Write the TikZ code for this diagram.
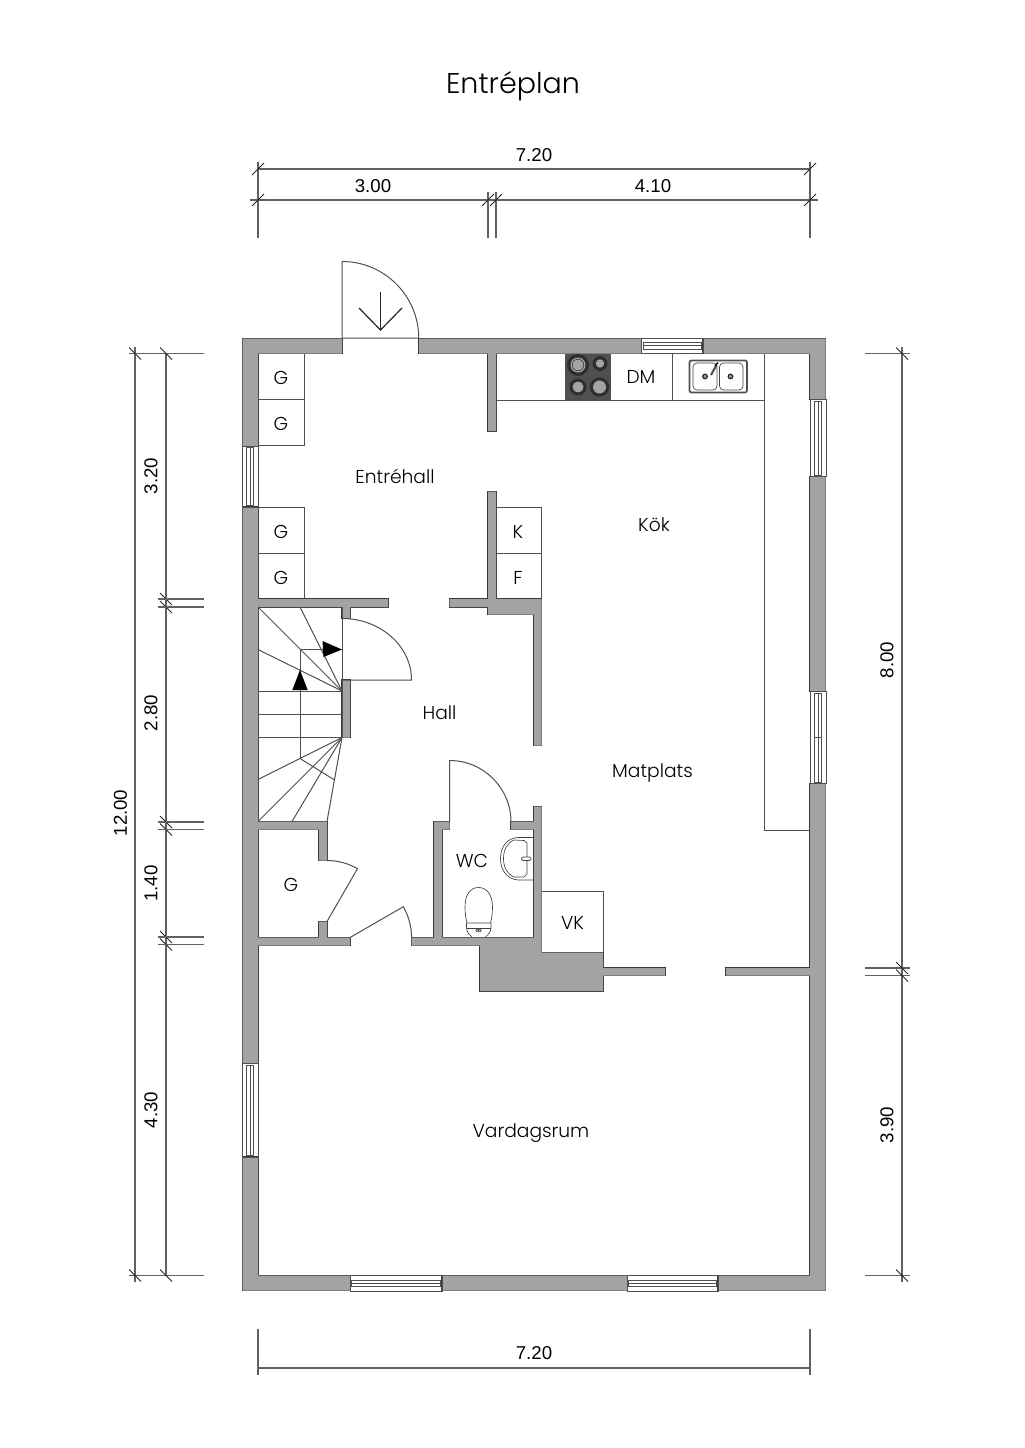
\documentclass[tikz,border=0pt]{standalone}
\usepackage{fontspec}
\setmainfont{Poppins Light}
\newfontfamily\dimfont{Liberation Sans}
\usetikzlibrary{calc}

\definecolor{wallgray}{HTML}{A3A3A3}
\definecolor{wallline}{HTML}{3A3A3A}
\definecolor{hobgray}{HTML}{505050}
\definecolor{thingray}{HTML}{505050}

\tikzset{
  roomlabel/.style={font=\fontsize{14}{16}\selectfont,inner sep=0pt,text height=10pt,text depth=0pt,text=black},
  dimlabel/.style={font=\dimfont\fontsize{14}{16}\selectfont,inner sep=0pt,text=black},
  thinline/.style={draw=thingray,line width=0.75pt},
  dimline/.style={draw=black!62,line width=0.9pt},
  tickline/.style={draw=black!85,line width=0.6pt},
  sanitary/.style={draw=black!75,line width=0.5pt},
}

% all the wall pieces, as rectangles, so they can be outlined and then filled
\newcommand{\wallrects}{
  % outer walls
  (242.5,338.5) rectangle (342,353.5) (419,338.5) rectangle (641.5,353.5) (703,338.5) rectangle (825.5,353.5)
  (810,338.5) rectangle (825.5,399.5) (810,476.5) rectangle (825.5,691.5) (810,783.5) rectangle (825.5,1290.5)
  (242.5,338.5) rectangle (258,446) (242.5,507) rectangle (258,1063.5) (242.5,1157) rectangle (258,1290.5)
  (242.5,1275.5) rectangle (350,1290.5) (442,1275.5) rectangle (627,1290.5) (718,1275.5) rectangle (825.5,1290.5)
  % entrance hall and kitchen partition
  (488,353.5) rectangle (496,431) (488,491.5) rectangle (496,607)
  (258,599) rectangle (388,607) (449.5,599) rectangle (496,607)
  (488,599) rectangle (541.5,614.5) (534,599) rectangle (541.5,745.5)
  % stair walls
  (342,599) rectangle (350,618.5) (342,680) rectangle (350,737.5)
  % storage
  (258,821.5) rectangle (327,829.5) (319,821.5) rectangle (327,860.5)
  (319,921.5) rectangle (327,945.5) (258,937.5) rectangle (350,945.5)
  % wc
  (411.5,937.5) rectangle (480,945.5) (434,821.5) rectangle (442,945.5)
  (434,821.5) rectangle (449.5,829.5) (511,821.5) rectangle (541.5,829.5)
  (534,806.5) rectangle (541.5,960)
  % chimney block and living room partition
  (480,937.5) rectangle (541.5,991) (541.5,952.5) rectangle (603,991)
  (603,968) rectangle (665,975.5) (726,968) rectangle (810,975.5)
}

\begin{document}
\begin{tikzpicture}[x=0.75pt,y=-0.75pt]
\useasboundingbox (0,0) rectangle (1024,1448);

% the title
\node[font=\fontsize{21.4}{24}\selectfont,inner sep=0pt,text height=15pt,text depth=0pt] (title) at (513,84) {Entréplan};

% cupboards and counter
\foreach \xa/\ya/\xb/\yb in {258/353.5/304/399.5, 258/399.5/304/445.5, 258/507/304/553, 258/553/304/599,
    496/507/541.5/553, 496/553/541.5/599, 541.5/891/603/952.5}
  \draw[thinline] (\xa,\ya) rectangle (\xb,\yb);
\draw[thinline] (496,400) -- (764.5,400);
\draw[thinline] (764.5,353.5) -- (764.5,830) -- (810,830);
\draw[thinline] (672.5,353.5) -- (672.5,400);

% the hob
\fill[hobgray] (564.5,353.5) rectangle (611,400);
\foreach \cx/\cy/\rad/\inrad in {578/365/11/7.5, 600/363.5/7.5/4.2, 578/387/8.5/5.5, 599.5/387/9.7/6.5} {
  \fill[black!82] (\cx,\cy) circle [radius=\rad];
  \fill[wallgray] (\cx,\cy) circle [radius=\inrad];
}
\draw[draw=black!82,line width=0.4pt] (578,365) circle [radius=5.8];

% the kitchen sink
\draw[draw=thingray,line width=1.3pt,rounded corners=1.5pt] (689.5,360.5) rectangle (747,392.5);
\draw[sanitary,rounded corners=3pt] (693,363) rectangle (717,390);
\draw[sanitary,rounded corners=3pt] (719.5,363) rectangle (743,390);
\foreach \cx in {705,730.5}
  \draw[draw=black!85,line width=0.9pt,fill=wallgray] (\cx,376.5) circle [radius=2.3];
\draw[draw=thingray,line width=1.6pt] (711,375) -- (716.5,365);
\draw[draw=black,line width=1pt] (715,366) -- (718,362.5);

% the walls
\draw[draw=wallline,line width=0.8pt] \wallrects;
\fill[wallgray] \wallrects;

% the windows, horizontal and vertical
\foreach \xa/\xb/\ya/\yb in {641.5/703/338/353.5, 350/442/1275.5/1291, 627/718/1275.5/1291} {
  \draw[thinline] (\xa,\ya) rectangle (\xb,\yb);
  \draw[thinline] (\xa+1.5,\ya+4.5) rectangle (\xb-1.5,\yb-4.5);
  \draw[thinline] (\xa+1.5,\ya+7.75) -- (\xb-1.5,\ya+7.75);
}
\foreach \xa/\xb/\ya/\yb in {242/258/446/507, 810/826/399.5/476.5, 810/826/691.5/783.5, 242/258/1063.5/1157} {
  \draw[thinline] (\xa,\ya) rectangle (\xb,\yb);
  \draw[thinline] (\xa+4.5,\ya+1.5) rectangle (\xb-4.5,\yb-1.5);
  \draw[thinline] (\xa+8,\ya+1.5) -- (\xa+8,\yb-1.5);
}
\draw[thinline] (814.5,737.5) -- (821.5,737.5);

% the entrance door and its arrow
\draw[thinline] (419,338) -- (342,338) -- (342,261.5) arc [start angle=-90,end angle=0,radius=76.75];
\draw[draw=black!85,line width=0.9pt] (380.5,292) -- (380.5,330);
\draw[draw=black!85,line width=0.9pt] (359,308) -- (380.5,330) -- (402,308);

% the other doors
\draw[thinline] (342,618.5) arc [start angle=-90,end angle=0,x radius=69.5,y radius=61.5] -- (342,680);
\draw[thinline] (449.5,821.5) -- (449.5,760.5) arc [start angle=-90,end angle=0,radius=61.5];
\draw[thinline] (327,860.5) arc [start angle=-90,end angle=-60,radius=61] -- (327,921.5);
\draw[thinline] (350,937.5) -- (403.3,906.75) arc [start angle=-30,end angle=0,radius=61.5];

% the stairs
\draw[thinline] (342,607) -- (342,737.5);
\foreach \y in {691,714.5,737.5}
  \draw[thinline] (258,\y) -- (342,\y);
\foreach \xa/\ya in {258/607, 300/607, 258/649.5}
  \draw[thinline] (\xa,\ya) -- (342,691);
\foreach \xa in {258,292,327}
  \draw[thinline] (\xa,821.5) -- (342,737.5);
\draw[thinline] (258,779.5) -- (342,737.5);
\draw[thinline] (300,758.5) -- (334.5,780);
\draw[thinline] (300,758.5) -- (300,649.5) -- (342,649.5);
\fill[black] (300,670) -- (292.3,690) -- (307.7,690) -- cycle;
\fill[black] (342,649.5) -- (322.5,641) -- (323.5,657) -- cycle;

% the wash basin
\draw[sanitary] (534,837.5) -- (518,837.5) .. controls (506,838) and (500.5,848) .. (500.5,858.5)
  .. controls (500.5,869) and (506,879) .. (518,880) -- (534,880);
\draw[sanitary] (524,840.5) -- (514,840) .. controls (507,843) and (503.5,850) .. (503.5,858.5)
  .. controls (503.5,867) and (507,874) .. (514,877) -- (524,877) -- (527,874);
\draw[sanitary] (524,840.5) -- (527,843) -- (527,874);
\draw[sanitary,fill=white,rounded corners=1pt] (521.5,857) rectangle (531,860.5);

% the toilet
\draw[sanitary] (478.5,887.5) .. controls (470,887.5) and (465,895) .. (465,907)
  .. controls (465,914) and (466,919) .. (467,923) -- (490.5,923)
  .. controls (491.5,919) and (492.5,914) .. (492.5,907) .. controls (492.5,895) and (487,887.5) .. (478.5,887.5);
\draw[sanitary] (466.5,923) -- (466.5,928) .. controls (467,932) and (469,935) .. (472,937);
\draw[sanitary] (491,923) -- (491,928) .. controls (490.5,932) and (488.5,935) .. (485.5,937);
\draw[sanitary] (466.5,928) -- (491,928);
\draw[sanitary] (478.5,930.5) ellipse [x radius=2.8,y radius=1.4];
\fill[black!85] (478.5,930.5) circle [radius=0.9];

% the room labels
\node[roomlabel] (entrehall) at (395,477) {Entréhall};
\node[roomlabel] (kok) at (654,525) {Kök};
\node[roomlabel] (hall) at (439.5,712.5) {Hall};
\node[roomlabel] (matplats) at (652.5,771) {Matplats};
\node[roomlabel] (vardagsrum) at (531,1130.5) {Vardagsrum};
\node[roomlabel] (wc) at (472,861) {WC};
\foreach \x/\y/\name/\txt in {281/377.5/ga/G, 281/423.5/gb/G, 281/531.5/gc/G, 281/577.5/gd/G, 291/884.5/ge/G,
    518/531.5/kyl/K, 518/577.5/frys/F, 641/377/dm/DM, 572.5/922.5/vk/VK}
  \node[roomlabel] (\name) at (\x,\y) {\txt};

% dimensions above
\draw[dimline] (258,169) -- (810,169);
\draw[dimline] (250,200) -- (818,200);
\foreach \x/\ytop in {258/162, 488/192, 496/192, 810/162}
  \draw[dimline] (\x,\ytop) -- (\x,238);
\foreach \x/\y in {258/169, 810/169, 258/200, 488/200, 496/200, 810/200}
  \draw[tickline] (\x-6,\y+6) -- (\x+6,\y-6);
\node[dimlabel] (overall) at (534,155) {7.20};
\node[dimlabel] (partleft) at (373,186) {3.00};
\node[dimlabel] (partright) at (653,186) {4.10};

% dimensions below
\draw[dimline] (258,1368) -- (810,1368);
\foreach \x in {258,810}
  \draw[dimline] (\x,1329) -- (\x,1375);
\node[dimlabel] (overallb) at (534,1353) {7.20};

% dimensions on the left
\draw[dimline] (135,347) -- (135,1282);
\draw[dimline] (166,353.5) -- (166,1275.5);
\foreach \y in {353.5,1275.5} {
  \draw[dimline] (129,\y) -- (204,\y);
  \draw[tickline] (135-6,\y-6) -- (135+6,\y+6);
}
\foreach \y in {353.5,599,607,822,829.5,937,944.5,1275.5}
  \draw[tickline] (166-6,\y-6) -- (166+6,\y+6);
\foreach \y in {599,607,822,829.5,937,944.5}
  \draw[dimline] (158,\y) -- (204,\y);
\node[dimlabel,rotate=90] (dtotal) at (120.5,813) {12.00};
\node[dimlabel,rotate=90] (dstor) at (151,476) {3.20};
\node[dimlabel,rotate=90] (dtrapp) at (151,713) {2.80};
\node[dimlabel,rotate=90] (dgard) at (151,883.5) {1.40};
\node[dimlabel,rotate=90] (dvard) at (151,1110) {4.30};

% dimensions on the right
\draw[dimline] (902,347) -- (902,1282);
\foreach \y in {353.5,968,975.5,1275.5} {
  \draw[dimline] (865,\y) -- (910,\y);
  \draw[tickline] (902-6,\y-6) -- (902+6,\y+6);
}
\node[dimlabel,rotate=90] (dkok) at (887,660) {8.00};
\node[dimlabel,rotate=90] (dsal) at (887,1125) {3.90};

\end{tikzpicture}
\end{document}
